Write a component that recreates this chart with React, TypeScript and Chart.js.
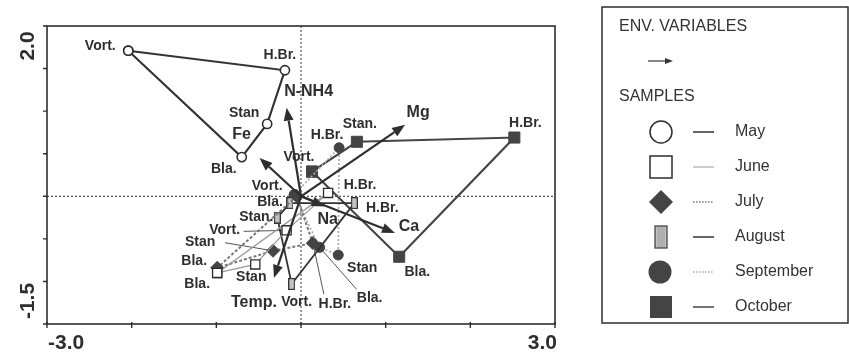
import React, { useEffect, useRef } from 'react';
import { Chart, registerables } from 'chart.js';

Chart.register(...registerables);

// ---------- DATA ----------
const months = ['May', 'June', 'July', 'August', 'September', 'October'];

// site order in each array: Vort., H.Br., Stan, Bla.
const mayX = [-2.04, -0.19, -0.40, -0.70];
const mayY = [1.71, 1.48, 0.85, 0.46];
const mayLabels = ['Vort.', 'H.Br.', 'Stan', 'Bla.'];

const juneX = [-0.17, 0.32, -0.54, -0.99];
const juneY = [-0.40, 0.04, -0.80, -0.90];
const juneLabels = ['Vort.', 'H.Br.', 'Stan', 'Bla.'];

const julyX = [-0.05, 0.14, -0.33, -0.99];
const julyY = [0.0, -0.55, -0.64, -0.84];
const julyLabels = ['', 'H.Br.', 'Stan', 'Bla.'];

const augX = [-0.11, 0.63, -0.28, -0.13];
const augY = [-1.03, -0.08, -0.25, -0.08];
const augLabels = ['Vort.', 'H.Br.', 'Stan.', 'Bla.'];

const sepX = [-0.08, 0.45, 0.44, 0.22];
const sepY = [0.02, 0.57, -0.69, -0.60];
const sepLabels = ['Vort.', 'H.Br.', 'Stan', 'Bla.'];

const octX = [0.13, 2.52, 0.66, 1.16];
const octY = [0.29, 0.69, 0.64, -0.71];
const octLabels = ['Vort.', 'H.Br.', 'Stan.', 'Bla.'];

// environmental variable arrows (end points, from origin)
const envNames = ['N-NH4', 'Fe', 'Mg', 'Ca', 'Na', 'Temp.'];
const envX = [-0.17, -0.49, 1.23, 1.11, 0.28, -0.32];
const envY = [1.04, 0.45, 0.84, -0.43, -0.12, -0.96];

// axis tick labels (only extremes are labelled)
const xTickValues = [-3, 3];
const xTickLabels = ['-3.0', '3.0'];
const yTickValues = [-1.5, 2];
const yTickLabels = ['-1.5', '2.0'];

// ---------- LAYOUT / STYLE ----------
const FONT = '"Liberation Sans", Arial, Helvetica, sans-serif';
const INK = '#2e2e2e';

// order in which sites are joined (indices into the arrays above)
const PATH_ORDER = [
  [0, 1, 2, 3, 0],
  [3, 2, 0, 1, 3],
  [0, 3, 2, 1, 0],
  [3, 2, 0, 1, 3],
  [0, 1, 2, 3, 0],
  [0, 2, 1, 3, 0],
];

// label offsets (px) from each point, per month, per site
const LABEL_OFFSETS: (number[] | null)[][] = [
  [[-28, -5], [-5, -15], [-23, -11], [-18, 12]],
  [[-62, 0], [32, -8], [-4, 13], [-20, 11]],
  [null, [22, 61], [-73, -9], [-23, -7]],
  [[5, 18], [28, 5], [-21, 0], [-20, -1]],
  [[-27, -8], [-12, -13], [24, 13], [50, 51]],
  [[-13, -14], [11, -14], [3, -18], [18, 15]],
];
// leader lines: month, site, start dx, start dy (relative to point)
const LEADERS = [
  [1, 0, -43, 1],
  [2, 2, -48, -8],
  [2, 1, 11, 51],
  [4, 3, 37, 42],
];
const ENV_LABEL_OFFSETS = [
  [22, -16],
  [-18, -23],
  [13, -12],
  [14, -6],
  [3, 13],
  [-20, 25],
];

const LINE_STYLES = [
  { color: '#333', width: 2.1, dash: [] as number[] },
  { color: '#999', width: 1.3, dash: [] as number[] },
  { color: '#777', width: 2, dash: [3, 2] },
  { color: '#333', width: 1.8, dash: [] as number[] },
  { color: '#aaa', width: 1.7, dash: [2, 2] },
  { color: '#444', width: 2.1, dash: [] as number[] },
];

function drawArrow(ctx: CanvasRenderingContext2D, x0: number, y0: number, x1: number, y1: number, head: number, half: number) {
  const ang = Math.atan2(y1 - y0, x1 - x0);
  const bx = x1 - head * Math.cos(ang);
  const by = y1 - head * Math.sin(ang);
  ctx.beginPath();
  ctx.moveTo(x0, y0);
  ctx.lineTo(bx, by);
  ctx.stroke();
  ctx.beginPath();
  ctx.moveTo(x1, y1);
  ctx.lineTo(bx + half * Math.sin(ang), by - half * Math.cos(ang));
  ctx.lineTo(bx - half * Math.sin(ang), by + half * Math.cos(ang));
  ctx.closePath();
  ctx.fill();
}

export default function App() {
  const ref = useRef<HTMLCanvasElement>(null);

  useEffect(() => {
    const canvas = ref.current!;
    const seriesX = [mayX, juneX, julyX, augX, sepX, octX];
    const seriesY = [mayY, juneY, julyY, augY, sepY, octY];
    const seriesLabels = [mayLabels, juneLabels, julyLabels, augLabels, sepLabels, octLabels];

    // August marker: tall narrow grey rectangle
    const augPt = document.createElement('canvas');
    augPt.width = 7;
    augPt.height = 12;
    const g = augPt.getContext('2d')!;
    g.fillStyle = '#c4c4c4';
    g.fillRect(0, 0, 7, 12);
    g.strokeStyle = '#333';
    g.lineWidth = 1.2;
    g.strokeRect(0.6, 0.6, 5.8, 10.8);

    const pointStyles: any[] = [
      { pointStyle: 'circle', pointRadius: 4.6, pointBackgroundColor: '#fff', pointBorderColor: INK, pointBorderWidth: 1.6 },
      { pointStyle: 'rect', pointRadius: 6.5, pointBackgroundColor: '#fff', pointBorderColor: INK, pointBorderWidth: 1.3 },
      { pointStyle: 'rectRot', pointRadius: 6.5, pointBackgroundColor: '#444', pointBorderColor: '#444', pointBorderWidth: 1 },
      { pointStyle: augPt, pointRadius: 5, pointBackgroundColor: '#c4c4c4', pointBorderColor: INK, pointBorderWidth: 1 },
      { pointStyle: 'circle', pointRadius: 5, pointBackgroundColor: '#444', pointBorderColor: '#444', pointBorderWidth: 1 },
      { pointStyle: 'rect', pointRadius: 7.8, pointBackgroundColor: '#444', pointBorderColor: '#444', pointBorderWidth: 1 },
    ];

    const datasets = months.map((m, k) => ({
      label: m,
      data: PATH_ORDER[k].map((i) => ({ x: seriesX[k][i], y: seriesY[k][i] })),
      showLine: true,
      borderColor: LINE_STYLES[k].color,
      borderWidth: LINE_STYLES[k].width,
      borderDash: LINE_STYLES[k].dash,
      tension: 0,
      fill: false,
      ...pointStyles[k],
    }));

    const overlay = {
      id: 'overlay',
      beforeDatasetsDraw(chart: any) {
        const { ctx, chartArea: a, scales } = chart;
        const xs = scales.x;
        const ys = scales.y;
        ctx.save();
        // dotted zero lines
        const x0 = xs.getPixelForValue(0);
        const y0 = ys.getPixelForValue(0);
        ctx.strokeStyle = '#555';
        ctx.lineWidth = 1.2;
        ctx.setLineDash([2, 2]);
        ctx.beginPath();
        ctx.moveTo(a.left, y0);
        ctx.lineTo(a.right, y0);
        ctx.moveTo(x0, a.top);
        ctx.lineTo(x0, a.bottom);
        ctx.stroke();
        ctx.setLineDash([]);
        // leader lines
        ctx.strokeStyle = '#555';
        ctx.lineWidth = 1;
        LEADERS.forEach(([k, i, dx, dy]) => {
          const px = xs.getPixelForValue(seriesX[k][i]);
          const py = ys.getPixelForValue(seriesY[k][i]);
          ctx.beginPath();
          ctx.moveTo(px + dx, py + dy);
          ctx.lineTo(px, py);
          ctx.stroke();
        });
        ctx.restore();
      },
      afterDatasetsDraw(chart: any) {
        const { ctx, chartArea: a, scales } = chart;
        const xs = scales.x;
        const ys = scales.y;
        ctx.save();
        const ox = xs.getPixelForValue(0);
        const oy = ys.getPixelForValue(0);
        // env arrows
        ctx.strokeStyle = INK;
        ctx.fillStyle = INK;
        ctx.lineWidth = 2.2;
        envNames.forEach((n, i) => {
          const ex = xs.getPixelForValue(envX[i]);
          const ey = ys.getPixelForValue(envY[i]);
          drawArrow(ctx, ox, oy, ex, ey, 13, 5);
        });
        // env labels
        ctx.font = `bold 16px ${FONT}`;
        ctx.textAlign = 'center';
        ctx.textBaseline = 'middle';
        envNames.forEach((n, i) => {
          const ex = xs.getPixelForValue(envX[i]);
          const ey = ys.getPixelForValue(envY[i]);
          ctx.fillText(n, ex + ENV_LABEL_OFFSETS[i][0], ey + ENV_LABEL_OFFSETS[i][1]);
        });
        // site labels
        ctx.font = `bold 14px ${FONT}`;
        months.forEach((m, k) => {
          seriesLabels[k].forEach((lab, i) => {
            const off = LABEL_OFFSETS[k][i];
            if (!lab || !off) return;
            const px = xs.getPixelForValue(seriesX[k][i]);
            const py = ys.getPixelForValue(seriesY[k][i]);
            ctx.fillText(lab, px + off[0], py + off[1]);
          });
        });
        // frame
        ctx.strokeStyle = INK;
        ctx.lineWidth = 1.6;
        ctx.strokeRect(a.left, a.top, a.right - a.left, a.bottom - a.top);
        // ticks
        ctx.lineWidth = 1.4;
        ctx.beginPath();
        for (let v = -3; v <= 3; v += 1) {
          const px = xs.getPixelForValue(v);
          ctx.moveTo(px, a.bottom - 2);
          ctx.lineTo(px, a.bottom + 4);
        }
        for (let v = -1.5; v <= 2.001; v += 0.5) {
          const py = ys.getPixelForValue(v);
          ctx.moveTo(a.left - 4, py);
          ctx.lineTo(a.left, py);
        }
        ctx.stroke();
        // tick labels
        ctx.font = `bold 21px ${FONT}`;
        ctx.fillStyle = INK;
        ctx.textBaseline = 'middle';
        xTickValues.forEach((v, i) => {
          const px = xs.getPixelForValue(v);
          ctx.textAlign = i === 0 ? 'left' : 'right';
          ctx.fillText(xTickLabels[i], i === 0 ? px + 1 : px + 2, a.bottom + 19);
        });
        yTickValues.forEach((v, i) => {
          const py = ys.getPixelForValue(v);
          ctx.save();
          ctx.translate(a.left - 19, i === 0 ? py - 23 : py + 20);
          ctx.rotate(-Math.PI / 2);
          ctx.textAlign = 'center';
          ctx.fillText(yTickLabels[i], 0, 0);
          ctx.restore();
        });
        ctx.restore();
      },
      afterDraw(chart: any) {
        const { ctx } = chart;
        ctx.save();
        const L = { left: 602, top: 7, right: 848, bottom: 323 };
        ctx.strokeStyle = INK;
        ctx.lineWidth = 1.5;
        ctx.strokeRect(L.left, L.top, L.right - L.left, L.bottom - L.top);
        ctx.fillStyle = '#333';
        ctx.font = `16px ${FONT}`;
        ctx.textAlign = 'left';
        ctx.textBaseline = 'middle';
        ctx.fillText('ENV. VARIABLES', 619, 27);
        ctx.lineWidth = 1.2;
        ctx.strokeStyle = '#333';
        drawArrow(ctx, 648, 61, 673, 61, 8, 3);
        ctx.fillText('SAMPLES', 619, 97);
        const rows = [132, 167, 202, 237, 272, 307];
        const mx = 661;
        months.forEach((m, k) => {
          const y = rows[k];
          ctx.save();
          if (k === 0) {
            ctx.strokeStyle = INK; ctx.lineWidth = 1.5;
            ctx.beginPath(); ctx.arc(mx, y, 11, 0, Math.PI * 2); ctx.stroke();
          } else if (k === 1) {
            ctx.strokeStyle = INK; ctx.lineWidth = 1.5;
            ctx.strokeRect(mx - 11, y - 11, 22, 22);
          } else if (k === 2) {
            ctx.fillStyle = '#444';
            ctx.beginPath();
            ctx.moveTo(mx, y - 12); ctx.lineTo(mx + 12, y); ctx.lineTo(mx, y + 12); ctx.lineTo(mx - 12, y);
            ctx.closePath(); ctx.fill();
          } else if (k === 3) {
            ctx.fillStyle = '#c4c4c4';
            ctx.fillRect(mx - 6, y - 11, 12, 22);
            ctx.strokeStyle = '#999'; ctx.lineWidth = 1;
            ctx.beginPath();
            for (let xx = mx - 3; xx <= mx + 3; xx += 2) { ctx.moveTo(xx, y - 10); ctx.lineTo(xx, y + 10); }
            ctx.stroke();
            ctx.strokeStyle = '#444'; ctx.lineWidth = 1.3;
            ctx.strokeRect(mx - 6, y - 11, 12, 22);
          } else if (k === 4) {
            ctx.fillStyle = '#444';
            ctx.beginPath(); ctx.arc(mx - 1, y, 11.5, 0, Math.PI * 2); ctx.fill();
          } else {
            ctx.fillStyle = '#444';
            ctx.fillRect(mx - 11, y - 11, 22, 22);
          }
          ctx.restore();
          const ls = LINE_STYLES[k];
          ctx.save();
          ctx.strokeStyle = ls.color;
          ctx.lineWidth = k === 1 ? 1 : 1.5;
          ctx.setLineDash(ls.dash.length ? [1.5, 1.5] : []);
          ctx.beginPath(); ctx.moveTo(693, y); ctx.lineTo(714, y); ctx.stroke();
          ctx.restore();
          ctx.fillText(m, 735, y);
        });
        ctx.restore();
      },
    };

    const chart = new Chart(canvas, {
      type: 'scatter',
      data: { datasets: datasets as any },
      options: {
        responsive: false,
        animation: false,
        devicePixelRatio: 1,
        events: [],
        layout: { padding: { left: 47, top: 26, right: 294, bottom: 31 } },
        scales: {
          x: { type: 'linear', min: -3, max: 3, display: false },
          y: { type: 'linear', min: -1.5, max: 2, display: false },
        },
        plugins: { legend: { display: false }, tooltip: { enabled: false } },
      },
      plugins: [overlay],
    });
    return () => chart.destroy();
  }, []);

  return (
    <div style={{ position: 'absolute', left: 0, top: 0, width: 849, height: 355, background: '#fff' }}>
      <canvas ref={ref} width={849} height={355} style={{ display: 'block', width: 849, height: 355 }} />
    </div>
  );
}
